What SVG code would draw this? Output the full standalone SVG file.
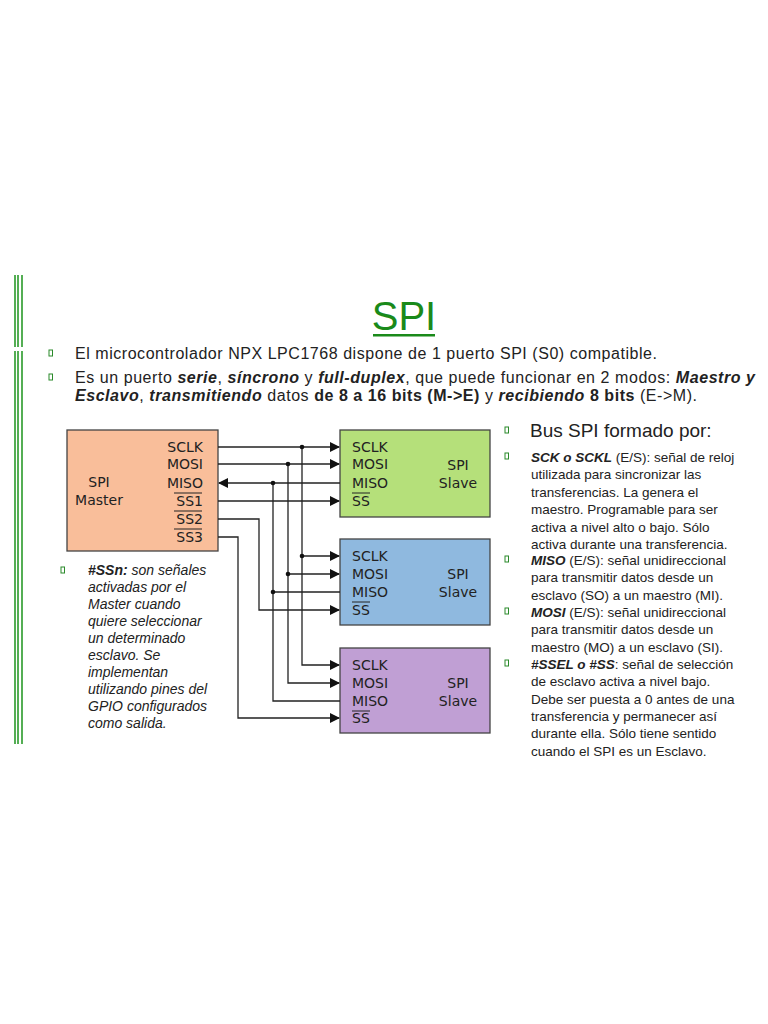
<svg xmlns="http://www.w3.org/2000/svg" width="768" height="1024" viewBox="0 0 768 1024">
<style>
.a{font-family:"Liberation Sans",Arial,sans-serif;fill:#222}
.d{font-family:"DejaVu Sans",sans-serif;font-size:14px;fill:#222}
.w{stroke:#222;stroke-width:1.3;fill:none}
.bul{fill:none;stroke:#2a8a2a;stroke-width:1}
.bar{stroke:#2a9a2a;stroke-width:1.6}
</style>
<defs><marker id="ar" markerWidth="10" markerHeight="10" refX="9" refY="5" orient="auto" markerUnits="userSpaceOnUse"><path d="M0,0 L10,5 L0,10 z" fill="#111"/></marker></defs>
<rect width="768" height="1024" fill="#fff"/>
<g class="bar"><line x1="15" y1="275" x2="15" y2="347"/><line x1="18" y1="275" x2="18" y2="347"/><line x1="22" y1="275" x2="22" y2="347"/><line x1="15" y1="351" x2="15" y2="744"/><line x1="18" y1="351" x2="18" y2="744"/><line x1="22" y1="351" x2="22" y2="744"/></g>
<text x="404" y="330" text-anchor="middle" font-family="Liberation Sans,Arial,sans-serif" font-size="40" fill="#1a8a1a">SPI</text>
<rect x="373" y="334" width="62" height="2.5" fill="#1a8a1a"/>
<g class="bul"><rect x="49" y="350" width="3.5" height="6"/><rect x="49" y="374" width="3.5" height="6"/><rect x="61" y="567" width="3.5" height="6"/><rect x="505" y="427" width="3.5" height="6"/><rect x="505" y="453" width="3.5" height="6"/><rect x="505" y="556" width="3.5" height="6"/><rect x="505" y="608" width="3.5" height="6"/><rect x="505" y="660" width="3.5" height="6"/></g>
<text class="a" x="75" y="359" font-size="16" textLength="582">El microcontrolador NPX LPC1768 dispone de 1 puerto SPI (S0) compatible.</text>
<text class="a" x="75" y="383" font-size="16" textLength="680">Es un puerto <tspan font-weight="bold" font-style="italic">serie</tspan>, <tspan font-weight="bold" font-style="italic">síncrono</tspan> y <tspan font-weight="bold" font-style="italic">full-duplex</tspan>, que puede funcionar en 2 modos: <tspan font-weight="bold" font-style="italic">Maestro y</tspan></text>
<text class="a" x="75" y="401" font-size="16" textLength="622"><tspan font-weight="bold" font-style="italic">Esclavo</tspan>, <tspan font-weight="bold" font-style="italic">transmitiendo</tspan> datos <tspan font-weight="bold">de 8 a 16 bits (M-&gt;E)</tspan> y <tspan font-weight="bold" font-style="italic">recibiendo</tspan> <tspan font-weight="bold">8 bits</tspan> (E-&gt;M).</text>

<g id="master"><rect x="67" y="430" width="151" height="121" fill="#f9be9a" stroke="#444" stroke-width="1.3"/>
<g class="d" text-anchor="end"><text x="203" y="452">SCLK</text><text x="203" y="469">MOSI</text><text x="203" y="488">MISO</text><text x="203" y="506">SS1</text><text x="203" y="524">SS2</text><text x="203" y="542">SS3</text></g>
<g stroke="#222" stroke-width="1"><line x1="174" y1="493" x2="202" y2="493"/><line x1="174" y1="511" x2="202" y2="511"/><line x1="174" y1="529" x2="202" y2="529"/></g>
<text class="d" x="99" y="487" text-anchor="middle">SPI</text><text class="d" x="99" y="505" text-anchor="middle">Master</text></g>

<g id="slave1"><rect x="340" y="430" width="150" height="87" fill="#b5e07a" stroke="#444" stroke-width="1.3"/>
<g class="d"><text x="352" y="452">SCLK</text><text x="352" y="469">MOSI</text><text x="352" y="488">MISO</text><text x="352" y="506">SS</text><text x="458" y="470" text-anchor="middle">SPI</text><text x="458" y="488" text-anchor="middle">Slave</text></g>
<line x1="352" y1="493" x2="370" y2="493" stroke="#222"/></g>
<g id="slave2"><rect x="340" y="539" width="150" height="86" fill="#8fb9df" stroke="#444" stroke-width="1.3"/>
<g class="d"><text x="352" y="561">SCLK</text><text x="352" y="579">MOSI</text><text x="352" y="597">MISO</text><text x="352" y="615">SS</text><text x="458" y="579" text-anchor="middle">SPI</text><text x="458" y="597" text-anchor="middle">Slave</text></g>
<line x1="352" y1="602" x2="370" y2="602" stroke="#222"/></g>
<g id="slave3"><rect x="340" y="648" width="150" height="85" fill="#c09fd4" stroke="#444" stroke-width="1.3"/>
<g class="d"><text x="352" y="670">SCLK</text><text x="352" y="688">MOSI</text><text x="352" y="706">MISO</text><text x="352" y="723">SS</text><text x="458" y="688" text-anchor="middle">SPI</text><text x="458" y="706" text-anchor="middle">Slave</text></g>
<line x1="352" y1="711" x2="370" y2="711" stroke="#222"/></g>

<g id="connectors" class="w">
<path d="M218,447 H339" marker-end="url(#ar)"/>
<path d="M218,464 H339" marker-end="url(#ar)"/>
<path d="M340,483 H219" marker-end="url(#ar)"/>
<path d="M218,501 H339" marker-end="url(#ar)"/>
<path d="M302,447 V665 H339" marker-end="url(#ar)"/>
<path d="M302,556 H339" marker-end="url(#ar)"/>
<path d="M288,464 V683 H339" marker-end="url(#ar)"/>
<path d="M288,574 H339" marker-end="url(#ar)"/>
<path d="M273,483 V701 H340"/>
<path d="M273,592 H340"/>
<path d="M218,519 H259 V610 H339" marker-end="url(#ar)"/>
<path d="M218,537 H238 V718 H339" marker-end="url(#ar)"/>
<g fill="#111" stroke="none"><circle cx="302" cy="447" r="2.3"/><circle cx="302" cy="556" r="2.3"/><circle cx="288" cy="464" r="2.3"/><circle cx="288" cy="574" r="2.3"/><circle cx="273" cy="483" r="2.3"/><circle cx="273" cy="592" r="2.3"/></g>
</g>

<g class="a" font-size="14" font-style="italic">
<text x="88" y="575"><tspan font-weight="bold">#SSn:</tspan> son señales</text>
<text x="88" y="592">activadas por el</text><text x="88" y="609">Master cuando</text><text x="88" y="626">quiere seleccionar</text><text x="88" y="643">un determinado</text><text x="88" y="660">esclavo. Se</text><text x="88" y="677">implementan</text><text x="88" y="694">utilizando pines del</text><text x="88" y="711">GPIO configurados</text><text x="88" y="728">como salida.</text>
</g>
<text class="a" x="530" y="437" font-size="19">Bus SPI formado por:</text>
<g class="a" font-size="13.5">
<text x="531" y="462"><tspan font-weight="bold" font-style="italic">SCK o SCKL</tspan> (E/S): señal de reloj</text>
<text x="531" y="479">utilizada para sincronizar las</text><text x="531" y="497">transferencias. La genera el</text><text x="531" y="514">maestro. Programable para ser</text><text x="531" y="532">activa a nivel alto o bajo. Sólo</text><text x="531" y="549">activa durante una transferencia.</text>
<text x="531" y="565"><tspan font-weight="bold" font-style="italic">MISO</tspan> (E/S): señal unidireccional</text>
<text x="531" y="582">para transmitir datos desde un</text><text x="531" y="600">esclavo (SO) a un maestro (MI).</text>
<text x="531" y="617"><tspan font-weight="bold" font-style="italic">MOSI</tspan> (E/S): señal unidireccional</text>
<text x="531" y="634">para transmitir datos desde un</text><text x="531" y="652">maestro (MO) a un esclavo (SI).</text>
<text x="531" y="669"><tspan font-weight="bold" font-style="italic">#SSEL o #SS</tspan>: señal de selección</text>
<text x="531" y="686">de esclavo activa a nivel bajo.</text><text x="531" y="704">Debe ser puesta a 0 antes de una</text><text x="531" y="721">transferencia y permanecer así</text><text x="531" y="738">durante ella. Sólo tiene sentido</text><text x="531" y="756">cuando el SPI es un Esclavo.</text>
</g>
</svg>
